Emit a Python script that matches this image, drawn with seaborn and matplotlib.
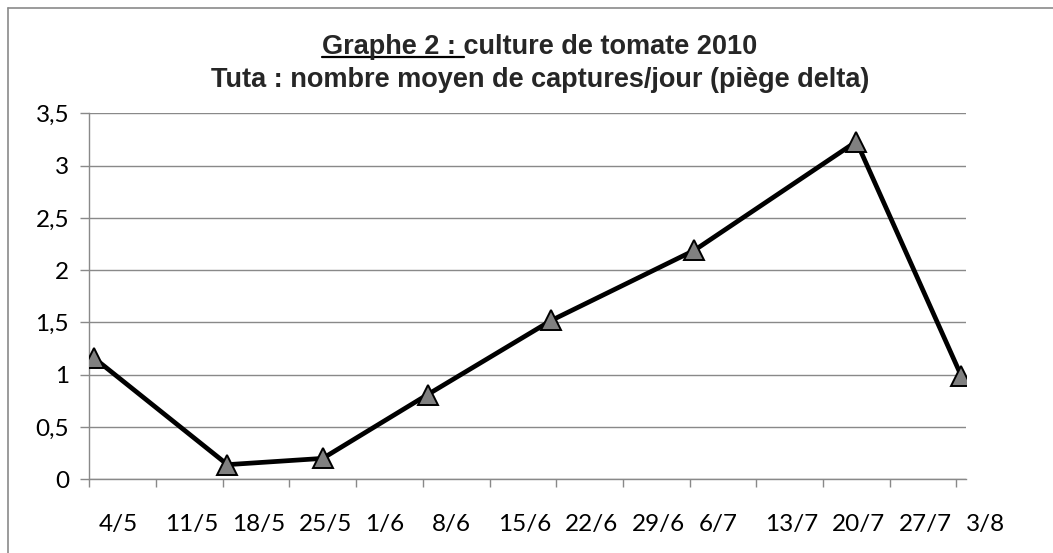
import matplotlib
matplotlib.use("Agg")
import matplotlib.pyplot as plt
import matplotlib.dates as mdates
from matplotlib.transforms import ScaledTranslation
from matplotlib.lines import Line2D
import seaborn as sns
import pandas as pd
import numpy as np

# ---- data ----
dates = ["2010-05-04", "2010-05-18", "2010-05-28", "2010-06-08",
         "2010-06-21", "2010-07-06", "2010-07-23", "2010-08-03"]
captures = [1.16, 0.14, 0.20, 0.81, 1.52, 2.19, 3.23, 0.99]
tick_dates = ["2010-05-04", "2010-05-11", "2010-05-18", "2010-05-25", "2010-06-01",
              "2010-06-08", "2010-06-15", "2010-06-22", "2010-06-29", "2010-07-06",
              "2010-07-13", "2010-07-20", "2010-07-27", "2010-08-03"]
tick_labels = ["4/5", "11/5", "18/5", "25/5", "1/6", "8/6", "15/6", "22/6",
               "29/6", "6/7", "13/7", "20/7", "27/7", "3/8"]
y_ticks = [0, 0.5, 1, 1.5, 2, 2.5, 3, 3.5]
y_labels = ["0", "0,5", "1", "1,5", "2", "2,5", "3", "3,5"]
title1_u = "Graphe 2 : "
title1_rest = "culture de tomate 2010"
title2 = "Tuta : nombre moyen de captures/jour (piège delta)"

sns.set_theme(style="white")
plt.rcParams["font.family"] = ["Lato", "DejaVu Sans"]

W, H = 1053, 553
fig = plt.figure(figsize=(W / 100, H / 100), dpi=100)
fig.patch.set_facecolor("white")

x0, x1, ytop, ybot = 89.3, 966.0, 113.3, 479.3
ax = fig.add_axes([x0 / W, 1 - ybot / H, (x1 - x0) / W, (ybot - ytop) / H])

df = pd.DataFrame({"date": pd.to_datetime(dates) + pd.Timedelta(hours=12),
                   "val": captures})
sns.lineplot(data=df, x="date", y="val", ax=ax, color="black", linewidth=3.4,
             marker="^", markersize=15, markerfacecolor="#808080",
             markeredgecolor="black", markeredgewidth=1.4, zorder=5)

ax.set_xlim(pd.Timestamp("2010-05-04"), pd.Timestamp("2010-08-04"))
ax.set_ylim(0, 3.5)
ax.set_xlabel("")
ax.set_ylabel("")

grid_c = "#898989"
ax.set_yticks(y_ticks)
ax.set_yticklabels(y_labels)
ax.yaxis.grid(True, color=grid_c, linewidth=1.0)
ax.xaxis.grid(False)
ax.set_axisbelow(True)

ax.set_xticks(pd.to_datetime(tick_dates))
ax.set_xticklabels(tick_labels)

for s in ["top", "right"]:
    ax.spines[s].set_visible(False)
for s in ["left", "bottom"]:
    ax.spines[s].set_color(grid_c)
    ax.spines[s].set_linewidth(1.0)

ax.tick_params(axis="y", which="major", direction="out", length=6.5, width=1.0,
               color=grid_c, labelsize=17.5, labelcolor="black", pad=8, left=True)
ax.tick_params(axis="x", which="major", direction="out", length=5.8, width=1.0,
               color=grid_c, labelsize=17.5, labelcolor="black", pad=19, bottom=True)

offset = ScaledTranslation(9 / 100, 0, fig.dpi_scale_trans)
for lab in ax.get_xticklabels():
    lab.set_horizontalalignment("left")
    lab.set_transform(lab.get_transform() + offset)

# Titles
tx = 540 / W
tfont = dict(family=["Liberation Sans", "DejaVu Sans"], fontweight="bold", fontsize=19.5)
t1 = fig.text(tx, 1 - 54 / H, title1_u + title1_rest, ha="center", va="baseline", **tfont)
fig.text(tx, 1 - 87 / H, title2, ha="center", va="baseline", **tfont)

fig.canvas.draw()
r = fig.canvas.get_renderer()
bb = t1.get_window_extent(r)
tmp = fig.text(0, 0, title1_u, **tfont)
wu = tmp.get_window_extent(r).width
tmp.remove()
uy = (H - 54 - 3) / H
fig.add_artist(Line2D([bb.x0 / W, (bb.x0 + wu) / W], [uy, uy], color="black",
                      linewidth=1.6, transform=fig.transFigure))

# chart area border (left and top)
fig.add_artist(Line2D([8 / W, 8 / W], [0, 1 - 8 / H], color="#8a8a8a", linewidth=1.2,
                      transform=fig.transFigure))
fig.add_artist(Line2D([8 / W, 1], [1 - 8 / H, 1 - 8 / H], color="#8a8a8a", linewidth=1.2,
                      transform=fig.transFigure))

fig.savefig("out.png", dpi=100, facecolor="white")
